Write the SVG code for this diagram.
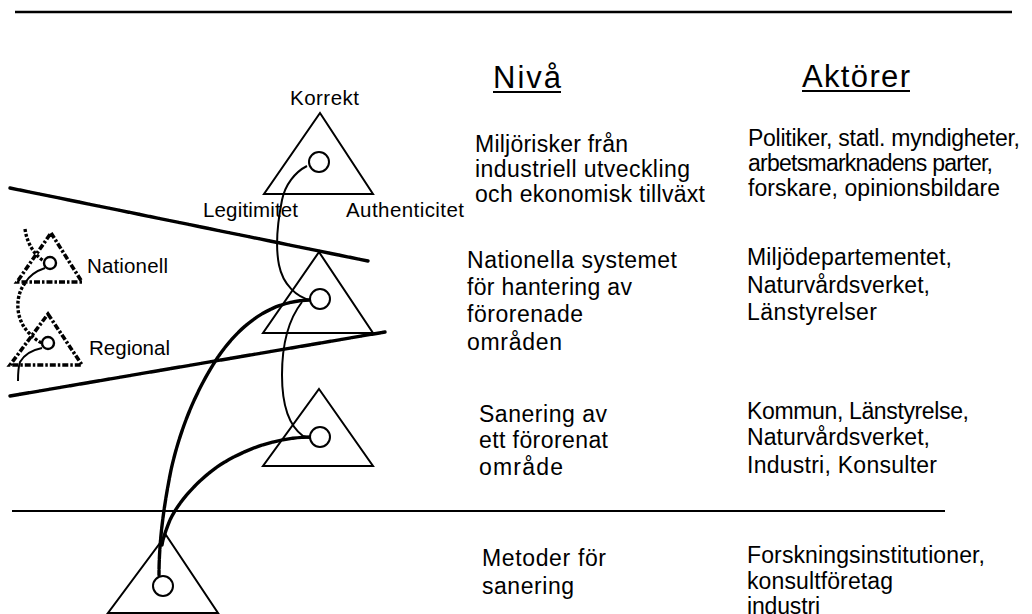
<svg xmlns="http://www.w3.org/2000/svg" width="1032" height="614" viewBox="0 0 1032 614">
  <style>
    .t { font-family: "Liberation Sans", Arial, sans-serif; fill: #000; }
    .lbl { font-size: 20.5px; }
    .body { font-size: 23px; }
    .head { font-size: 31px; }
    .tri { fill: none; stroke: #000; stroke-width: 2; stroke-linejoin: miter; }
    .tri-d { fill: none; stroke: #000; stroke-width: 3.6; stroke-dasharray: 6 2 2.5 2; }
    .ring { fill: #fff; stroke: #000; stroke-width: 2; }
    .ring-s { fill: #fff; stroke: #000; stroke-width: 2.4; }
    .rule { stroke: #000; fill: none; }
    .thin { fill: none; stroke: #000; stroke-width: 2; }
    .thick { fill: none; stroke: #000; stroke-width: 3.4; stroke-dasharray: 9 1.2; stroke-linecap: round; }
    .dots { fill: none; stroke: #000; stroke-width: 3.4; stroke-dasharray: 3 1.8; }
  </style>
  <rect width="1032" height="614" fill="#fff"/>

  <!-- horizontal rules and slanted level boundaries -->
  <g id="levels">
    <line class="rule" x1="15" y1="12" x2="1012" y2="12" stroke-width="2.5"/>
    <line class="rule" x1="12" y1="511" x2="945" y2="511" stroke-width="1.8"/>
    <line class="thick" x1="10" y1="188" x2="368" y2="261"/>
    <line class="thick" x1="10" y1="396" x2="385" y2="332"/>
  </g>

  <!-- connectors between the level triangles -->
  <g id="connectors">
    <path class="thin" d="M307,166 C295,172 285,185 282,200 C278,220 275,245 279,265 C283,285 297,297 310,300"/>
    <path class="thin" d="M302,302 C288,320 282,345 282,375 C282,405 288,425 303,436 L320,441"/>
    <path class="thick" d="M310,300 C270,301 240,325 218,357 C195,392 180,430 171,470 C164,505 159,540 159,575"/>
    <path class="thick" d="M312,437 C280,437 245,448 217,467 C195,483 178,503 170,520 C166,530 163,538 162,545"/>
    <path class="dots" d="M25,229 C27,243 34,255 44,261"/>
    <path class="thin" d="M45,268 C36,271 29,276 25,283"/>
    <path class="dots" d="M25,283 C15,296 15,318 28,332 C33,337 37,341 42,343"/>
    <path class="thin" d="M42,348 C32,350 24,355 20,362 C18,368 18,375 18,381"/>
  </g>

  <!-- top level: correctness triangle -->
  <g id="node-korrekt">
    <polygon class="tri" points="320,113 373,194 264,194"/>
    <circle class="ring" cx="319" cy="162" r="10"/>
    <text class="t lbl" x="290" y="105" textLength="69" lengthAdjust="spacing">Korrekt</text>
    <text class="t lbl" x="203" y="217" textLength="95" lengthAdjust="spacing">Legitimitet</text>
    <text class="t lbl" x="346" y="217" textLength="118" lengthAdjust="spacing">Authenticitet</text>
  </g>

  <g id="node-nationell">
    <polygon class="tri" points="319,252 373,333 263,333"/>
    <circle class="ring" cx="320" cy="299" r="10"/>
  </g>

  <g id="node-sanering">
    <polygon class="tri" points="319,389 373,466 263,466"/>
    <circle class="ring" cx="320" cy="437" r="10"/>
  </g>

  <g id="node-metoder">
    <polygon class="tri" points="166,535 218,613 108,613"/>
    <circle class="ring" cx="163" cy="586" r="10"/>
  </g>

  <!-- small dashed triangles on the left -->
  <g id="node-small-nationell">
    <polygon class="tri-d" points="51,233 82,282 17,282"/>
    <circle class="ring-s" cx="50" cy="263" r="6"/>
    <text class="t lbl" x="87" y="273" textLength="81" lengthAdjust="spacing">Nationell</text>
  </g>

  <g id="node-small-regional">
    <polygon class="tri-d" points="48,314 82,365 10,365"/>
    <circle class="ring-s" cx="48" cy="343" r="6"/>
    <text class="t lbl" x="89" y="355" textLength="81" lengthAdjust="spacing">Regional</text>
  </g>

  <!-- column headings -->
  <g id="headings">
    <text class="t head" x="493" y="88" textLength="68" lengthAdjust="spacing">Nivå</text>
    <line class="rule" x1="493" y1="92" x2="561" y2="92" stroke-width="2"/>
    <text class="t head" x="802" y="87" textLength="108" lengthAdjust="spacing">Aktörer</text>
    <line class="rule" x1="802" y1="91" x2="910" y2="91" stroke-width="2"/>
  </g>

  <!-- level descriptions -->
  <g id="niva">
    <text class="t body" x="475" y="152" textLength="153" lengthAdjust="spacing">Miljörisker från</text>
    <text class="t body" x="475" y="177" textLength="215" lengthAdjust="spacing">industriell utveckling</text>
    <text class="t body" x="475" y="202" textLength="230" lengthAdjust="spacing">och ekonomisk tillväxt</text>

    <text class="t body" x="467" y="268" textLength="210" lengthAdjust="spacing">Nationella systemet</text>
    <text class="t body" x="467" y="295" textLength="165" lengthAdjust="spacing">för hantering av</text>
    <text class="t body" x="467" y="322" textLength="116" lengthAdjust="spacing">förorenade</text>
    <text class="t body" x="467" y="350" textLength="95" lengthAdjust="spacing">områden</text>

    <text class="t body" x="479" y="422" textLength="128" lengthAdjust="spacing">Sanering av</text>
    <text class="t body" x="479" y="448" textLength="129" lengthAdjust="spacing">ett förorenat</text>
    <text class="t body" x="479" y="475" textLength="84" lengthAdjust="spacing">område</text>

    <text class="t body" x="482" y="566" textLength="124" lengthAdjust="spacing">Metoder för</text>
    <text class="t body" x="482" y="594" textLength="92" lengthAdjust="spacing">sanering</text>
  </g>

  <!-- actors per level -->
  <g id="aktorer">
    <text class="t body" x="748" y="146" textLength="272" lengthAdjust="spacing">Politiker, statl. myndigheter,</text>
    <text class="t body" x="748" y="171" textLength="245" lengthAdjust="spacing">arbetsmarknadens parter,</text>
    <text class="t body" x="748" y="196" textLength="252" lengthAdjust="spacing">forskare, opinionsbildare</text>

    <text class="t body" x="747" y="265" textLength="205" lengthAdjust="spacing">Miljödepartementet,</text>
    <text class="t body" x="747" y="293" textLength="183" lengthAdjust="spacing">Naturvårdsverket,</text>
    <text class="t body" x="747" y="320" textLength="130" lengthAdjust="spacing">Länstyrelser</text>

    <text class="t body" x="747" y="419" textLength="222" lengthAdjust="spacing">Kommun, Länstyrelse,</text>
    <text class="t body" x="747" y="445" textLength="183" lengthAdjust="spacing">Naturvårdsverket,</text>
    <text class="t body" x="747" y="473" textLength="190" lengthAdjust="spacing">Industri, Konsulter</text>

    <text class="t body" x="747" y="563" textLength="238" lengthAdjust="spacing">Forskningsinstitutioner,</text>
    <text class="t body" x="747" y="589" textLength="146" lengthAdjust="spacing">konsultföretag</text>
    <text class="t body" x="747" y="614" textLength="73" lengthAdjust="spacing">industri</text>
  </g>
</svg>
